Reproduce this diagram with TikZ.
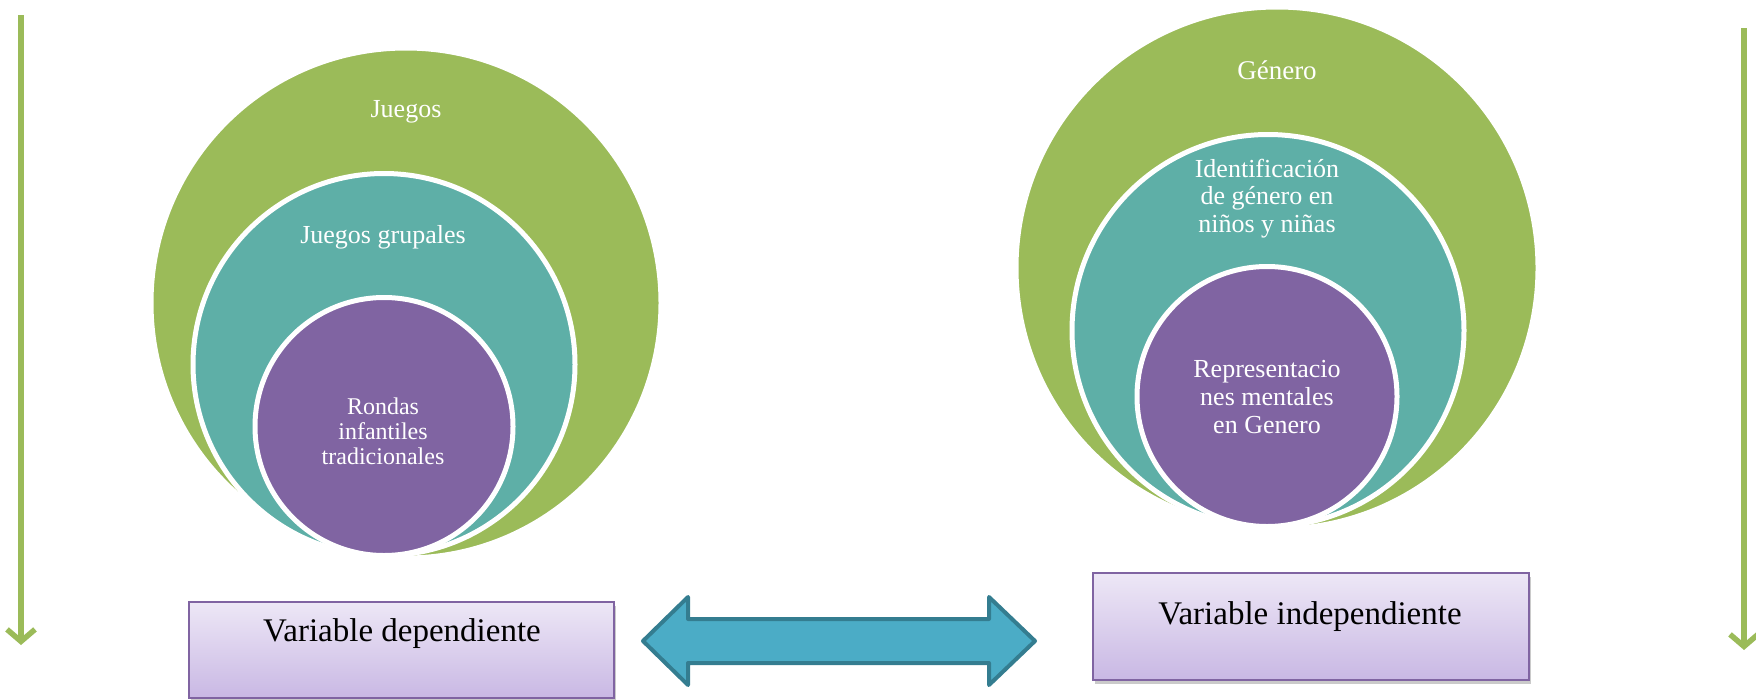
\documentclass[tikz,border=0pt]{standalone}
\usepackage{fontspec}
\setmainfont{Liberation Serif}
\usetikzlibrary{arrows.meta, shadows}
\definecolor{verde}{RGB}{155,187,89}
\definecolor{verdeacqua}{RGB}{94,175,167}
\definecolor{viola}{RGB}{128,100,162}
\definecolor{lillachiaro}{RGB}{237,231,246}
\definecolor{lillascuro}{RGB}{201,184,228}
\definecolor{azzurro}{RGB}{75,172,198}
\definecolor{azzurroscuro}{RGB}{52,125,144}

\begin{document}
\begin{tikzpicture}[x=1pt, y=-1pt,
    cerchio/.style={draw=white, line width=5pt},
    etichetta/.style={text=white, align=center, inner sep=0pt},
    variabile/.style={draw=viola, line width=1.5pt, top color=lillachiaro, bottom color=lillascuro,
        drop shadow={shadow xshift=2pt, shadow yshift=-4pt, opacity=.35, fill=black!60}},
    testovar/.style={inner sep=0pt, anchor=base, font=\fontsize{33}{36}\selectfont},
    freccia/.style={draw=verde, line width=5.5pt, -{Straight Barb[length=12pt, width=28pt]}}]
    % Parametri
    \pgfmathsetmacro{\bsx}{558}
    \pgfmathsetmacro{\bdx}{529}
    \pgfmathsetmacro{\fy}{641}
    \useasboundingbox (0,0) rectangle (1756,699);
    % Frecce laterali
    \coordinate (inizioS) at (21,15);
    \coordinate (fineS) at (21,645);
    \coordinate (inizioD) at (1744,28);
    \coordinate (fineD) at (1744,650);
    \draw[freccia] (inizioS) -- (fineS);
    \draw[freccia] (inizioD) -- (fineD);
    % Cerchi a sinistra
    \filldraw[cerchio, fill=verde] (406,{\bsx-255}) circle[radius=255];
    \filldraw[cerchio, fill=verdeacqua] (384,{\bsx-193.5}) circle[radius=191];
    \filldraw[cerchio, fill=viola] (384,{\bsx-131.5}) circle[radius=129];
    \node[etichetta, anchor=base, font=\fontsize{26}{28}\selectfont] (giochi) at (406,117) {Juegos};
    \node[etichetta, anchor=base, font=\fontsize{26}{28}\selectfont] (gruppo) at (383,243) {Juegos grupales};
    \node[etichetta, font=\fontsize{24}{25}\selectfont] (ronde) at (383,431) {Rondas\\infantiles\\tradicionales};
    % Cerchi a destra
    \filldraw[cerchio, fill=verde] (1277,{\bdx-261}) circle[radius=261];
    \filldraw[cerchio, fill=verdeacqua] (1268,{\bdx-198.5}) circle[radius=196];
    \filldraw[cerchio, fill=viola] (1267,{\bdx-132.5}) circle[radius=130];
    \node[etichetta, anchor=base, font=\fontsize{27}{29}\selectfont] (genere) at (1277,79) {Género};
    \node[etichetta, font=\fontsize{26}{27.5}\selectfont] (identita) at (1267,198.5) {Identificación\\de género en\\niños y niñas};
    \node[etichetta, font=\fontsize{26}{28}\selectfont] (rappr) at (1267,397) {Representacio\\nes mentales\\en Genero};
    % Riquadri
    \node[variabile, minimum width=425pt, minimum height=96pt] (dip) at (401.5,650) {};
    \node[testovar] (tdip) at (402,641) {Variable dependiente};
    \node[variabile, minimum width=436pt, minimum height=107pt] (indip) at (1311,626.5) {};
    \node[testovar] (tindip) at (1310,624) {Variable independiente};
    % Freccia doppia
    \filldraw[fill=azzurro, draw=azzurroscuro, line width=4pt, line join=round]
        (643,\fy) -- (688,{\fy-44}) -- (688,{\fy-22}) -- (989,{\fy-22}) -- (989,{\fy-44})
        -- (1035,\fy) -- (989,{\fy+44}) -- (989,{\fy+22}) -- (688,{\fy+22}) -- (688,{\fy+44}) -- cycle;
\end{tikzpicture}
\end{document}
